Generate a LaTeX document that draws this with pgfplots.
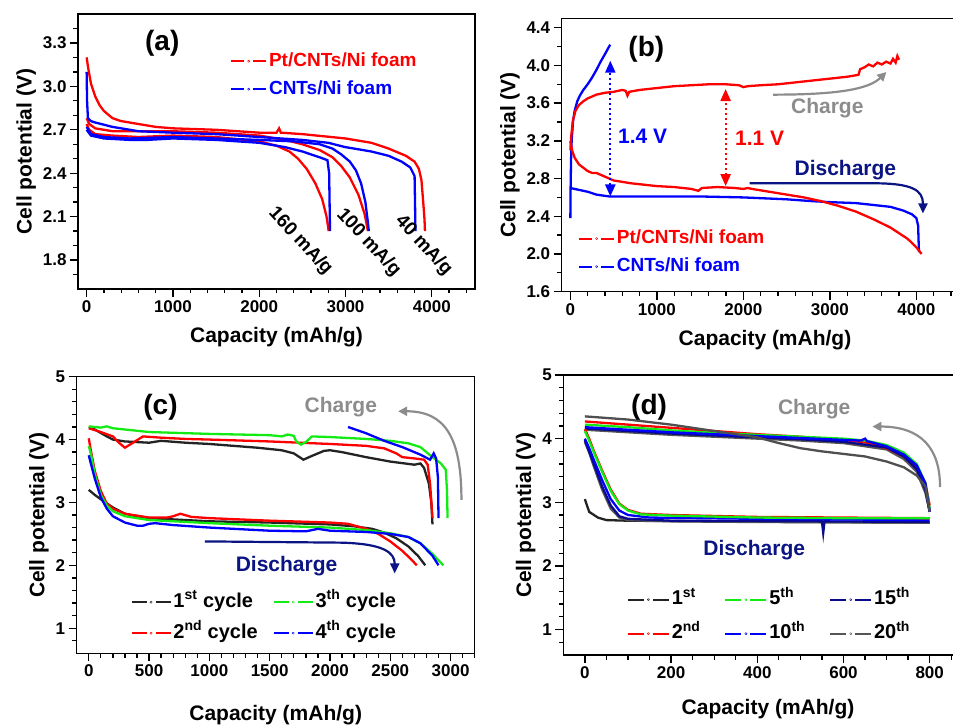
\documentclass[border=0pt]{standalone}
\usepackage{fontspec}
\setmainfont{Liberation Sans}
\usepackage{pgfplots}
\pgfplotsset{compat=1.18}
\usetikzlibrary{arrows.meta}
\definecolor{cblack}{RGB}{35,35,35}
\definecolor{cred}{RGB}{255,0,0}
\definecolor{cblue}{RGB}{0,0,255}
\definecolor{cgreen}{RGB}{20,235,20}
\definecolor{cnavy}{RGB}{10,10,140}
\definecolor{cgray}{RGB}{85,85,85}
\definecolor{chg}{RGB}{140,140,140}
\definecolor{dnavy}{RGB}{10,20,130}
\tikzset{
  anno/.style={font=\fontsize{21}{21}\selectfont\bfseries},
  rlab/.style={font=\fontsize{19}{19}\selectfont\bfseries, rotate=-47},
  plab/.style={font=\fontsize{28}{28}\selectfont\bfseries},
  tk/.style={draw=black, line width=1.3pt, line cap=butt},
}
\pgfplotsset{
  panel/.style={
    scale only axis, anchor=south west, clip=false,
    axis line style={line width=1.4pt},
    major tick style={draw=black, line width=1.3pt},
    minor tick style={draw=black, line width=1.3pt},
    tick align=outside, tick pos=left,
    major tick length=8pt, minor tick length=4.5pt,
    ticklabel style={font=\fontsize{17}{17}\selectfont\bfseries},
    label style={font=\fontsize{21}{21}\selectfont\bfseries},
    xlabel style={yshift=-8pt},
    /pgf/number format/assume math mode=true,
    /pgf/number format/set thousands separator={},
    xlabel={Capacity (mAh/g)}, ylabel={Cell potential (V)},
    legend cell align=left,
    legend style={draw=none, fill=none, inner sep=0pt,
      font=\fontsize{19}{19}\selectfont\bfseries,
      nodes={inner sep=2pt, text height=14pt, text depth=4pt}},
    every axis plot/.append style={line width=2.3pt},
  },
  limg/.style={legend image code/.code={
      \draw[##1,line width=1.8pt] (0pt,0pt)--({#1*1pt},0pt) ({(#1+9)*1pt},0pt)--({(2*#1+9)*1pt},0pt);
      \draw[##1,line width=0.4pt] ({(#1+4.5)*1pt},0pt) circle (1.1pt);}},
}
\begin{document}
\begin{tikzpicture}
\useasboundingbox (0,0) rectangle (953pt,726pt);
% ---------------- (a)
\begin{axis}[panel, at={(78pt,437pt)}, width=397pt, height=275pt,
  xmin=-100, xmax=4500, ymin=1.6, ymax=3.5,
  xtick={0,1000,2000,3000,4000}, minor x tick num=4,
  ytick={1.8,2.1,2.4,2.7,3.0,3.3}, minor y tick num=2,
  yticklabel style={/pgf/number format/.cd, fixed, fixed zerofill, precision=1},
  limg=13,
  legend style={at={(axis description cs:0.383,0.869)}, anchor=north west,
    nodes={text height=14pt, text depth=4pt}, row sep=6pt}]
\addlegendimage{cred}\addlegendentry{\textcolor{cred}{Pt/CNTs/Ni foam}}
\addlegendimage{cblue}\addlegendentry{\textcolor{cblue}{CNTs/Ni foam}}
\addplot[cred, forget plot] coordinates {(0,3.20)(20,3.12)(50,3.02)(100,2.93)(150,2.87)(200,2.83)(300,2.78)(400,2.76)(600,2.74)(800,2.72)(1000,2.71)(1500,2.70)(2000,2.68)(2200,2.68)(2230,2.71)(2250,2.68)(2500,2.67)(3000,2.64)(3300,2.61)(3500,2.57)(3700,2.52)(3800,2.48)(3850,2.43)(3880,2.35)(3900,2.20)(3915,2.08)(3920,2.00)};
\addplot[cred, forget plot] coordinates {(0,2.78)(30,2.74)(100,2.71)(300,2.69)(600,2.69)(1000,2.69)(1500,2.68)(2000,2.66)(2300,2.63)(2500,2.60)(2700,2.56)(2850,2.51)(2950,2.45)(3050,2.37)(3150,2.25)(3220,2.12)(3260,2.00)};
\addplot[cred, forget plot] coordinates {(0,2.74)(30,2.70)(100,2.67)(300,2.66)(600,2.65)(1000,2.66)(1500,2.65)(2000,2.62)(2200,2.59)(2350,2.55)(2450,2.50)(2550,2.43)(2650,2.33)(2730,2.22)(2780,2.10)(2805,2.00)};
\addplot[cblue, forget plot] coordinates {(0,3.10)(5,2.90)(15,2.78)(50,2.76)(100,2.75)(300,2.72)(600,2.69)(1000,2.68)(1500,2.67)(2000,2.65)(2500,2.63)(2800,2.61)(3000,2.58)(3300,2.55)(3500,2.52)(3650,2.48)(3750,2.44)(3800,2.38)(3805,2.20)(3810,2.00)};
\addplot[cblue, forget plot] coordinates {(0,2.72)(50,2.67)(200,2.65)(500,2.64)(1000,2.65)(1500,2.64)(2000,2.63)(2400,2.62)(2700,2.60)(2850,2.57)(2950,2.53)(3050,2.48)(3120,2.42)(3180,2.33)(3230,2.20)(3255,2.08)(3270,2.00)};
\addplot[cblue, forget plot] coordinates {(0,2.70)(50,2.66)(200,2.64)(500,2.63)(700,2.63)(1000,2.64)(1500,2.63)(2000,2.61)(2300,2.58)(2500,2.55)(2700,2.51)(2790,2.49)(2810,2.40)(2815,2.20)(2820,2.00)};
\pgfplotsinvokeforeach{0,200,...,4400}{\draw[tk] (axis cs:#1,1.6) -- ++(0pt,-4.5pt);}
\pgfplotsinvokeforeach{0,1000,...,4000}{\draw[tk] (axis cs:#1,1.6) -- ++(0pt,-8pt);}
\pgfplotsinvokeforeach{1.7,1.8,...,3.45}{\draw[tk] (axis cs:-100,#1) -- ++(-4.5pt,0pt);}
\pgfplotsinvokeforeach{1.8,2.1,2.4,2.7,3.0,3.3}{\draw[tk] (axis cs:-100,#1) -- ++(-8pt,0pt);}
\node[plab] at (axis cs:876,3.30) {(a)};
\node[rlab] at (axis cs:2477,1.93) {160 mA/g};
\node[rlab] at (axis cs:3267,1.92) {100 mA/g};
\node[rlab] at (axis cs:3904,1.90) {40 mA/g};
\end{axis}
% ---------------- (b)
\begin{axis}[panel, at={(561.7pt,434.3pt)}, width=406.6pt, height=273.4pt,
  xmin=-100, xmax=4600, ymin=1.6, ymax=4.5,
  xtick={0,1000,2000,3000,4000}, minor x tick num=4,
  ytick={1.6,2.0,2.4,2.8,3.2,3.6,4.0,4.4}, minor y tick num=1,
  yticklabel style={/pgf/number format/.cd, fixed, fixed zerofill, precision=1},
  limg=13,
  legend style={at={(axis description cs:0.04,0.235)}, anchor=north west,
    nodes={text height=14pt, text depth=4pt}, row sep=6pt}]
\addlegendimage{cred}\addlegendentry{\textcolor{cred}{Pt/CNTs/Ni foam}}
\addlegendimage{cblue}\addlegendentry{\textcolor{cblue}{CNTs/Ni foam}}
\addplot[cblue, forget plot] coordinates {(0,2.38)(3,2.70)(8,3.00)(15,3.20)(30,3.40)(50,3.52)(80,3.62)(110,3.68)(150,3.74)(200,3.80)(250,3.87)(300,3.95)(350,4.04)(400,4.12)(460,4.22)};
\addplot[cblue, forget plot] coordinates {(0,2.70)(100,2.68)(200,2.66)(300,2.63)(450,2.61)(700,2.61)(1000,2.61)(1500,2.61)(2000,2.60)(2500,2.58)(2800,2.56)(3000,2.55)(3300,2.54)(3500,2.52)(3700,2.50)(3850,2.46)(3950,2.42)(4000,2.38)(4020,2.30)(4025,2.15)(4030,2.02)};
\addplot[cred, forget plot] coordinates {(0,3.10)(10,3.25)(30,3.42)(60,3.52)(100,3.58)(150,3.62)(200,3.65)(300,3.69)(400,3.71)(500,3.72)(600,3.74)(640,3.73)(660,3.68)(680,3.72)(800,3.74)(1000,3.76)(1200,3.78)(1400,3.79)(1600,3.80)(1800,3.80)(1950,3.79)(2000,3.77)(2050,3.78)(2200,3.79)(2400,3.80)(2600,3.82)(2800,3.84)(3000,3.86)(3200,3.88)(3330,3.90)(3350,3.96)(3400,3.98)(3450,4.01)(3500,3.99)(3550,4.03)(3600,4.01)(3650,4.04)(3700,4.02)(3730,4.07)(3760,4.03)(3780,4.10)(3800,4.06)};
\addplot[cred, forget plot] coordinates {(0,3.20)(20,3.10)(50,3.02)(100,2.95)(200,2.88)(250,2.86)(300,2.86)(400,2.82)(500,2.78)(700,2.75)(900,2.73)(1000,2.72)(1200,2.71)(1400,2.69)(1480,2.67)(1520,2.70)(1700,2.71)(1900,2.70)(2000,2.69)(2050,2.70)(2100,2.69)(2300,2.66)(2500,2.63)(2700,2.60)(2900,2.56)(3100,2.51)(3300,2.45)(3500,2.37)(3700,2.28)(3900,2.16)(4000,2.07)(4060,2.00)};
\pgfplotsinvokeforeach{0,200,...,4600}{\draw[tk] (axis cs:#1,1.6) -- ++(0pt,-4.5pt);}
\pgfplotsinvokeforeach{0,1000,...,4000}{\draw[tk] (axis cs:#1,1.6) -- ++(0pt,-8pt);}
\pgfplotsinvokeforeach{1.8,2.2,2.6,3.0,3.4,3.8,4.2}{\draw[tk] (axis cs:-100,#1) -- ++(-4.5pt,0pt);}
\pgfplotsinvokeforeach{1.6,2.0,2.4,2.8,3.2,3.6,4.0,4.4}{\draw[tk] (axis cs:-100,#1) -- ++(-8pt,0pt);}
\node[plab] at (axis cs:878,4.17) {(b)};
\draw[cblue, line width=2.2pt, dash pattern=on 2pt off 3pt, {Triangle[length=12pt,width=10pt]}-{Triangle[length=12pt,width=10pt]}] (axis cs:462,2.61) -- (axis cs:462,4.05);
\draw[cred, line width=2.2pt, dash pattern=on 2pt off 3pt, {Triangle[length=12pt,width=10pt]}-{Triangle[length=12pt,width=10pt]}] (axis cs:1795,2.72) -- (axis cs:1795,3.75);
\node[anno, text=cblue] at (axis cs:836,3.25) {1.4 V};
\node[anno, text=cred] at (axis cs:2188,3.23) {1.1 V};
\draw[chg, line width=2.2pt, -{Triangle[length=9pt,width=9pt]}] (axis cs:2343,3.69) .. controls (axis cs:3100,3.69) and (axis cs:3450,3.75) .. (axis cs:3653,3.93);
\node[anno, text=chg] at (axis cs:2970,3.55) {Charge};
\draw[dnavy, line width=2.2pt, -{Triangle[length=10pt,width=9pt]}] (axis cs:2073,2.75) -- (axis cs:3500,2.75) .. controls (axis cs:3950,2.75) and (axis cs:4076,2.68) .. (axis cs:4076,2.43);
\node[anno, text=dnavy] at (axis cs:3179,2.89) {Discharge};
\end{axis}
% ---------------- (c)
\begin{axis}[panel, at={(76.7pt,72.7pt)}, width=398pt, height=276.6pt,
  xmin=-100, xmax=3200, ymin=0.6, ymax=5,
  xtick={0,500,1000,1500,2000,2500,3000}, minor x tick num=4,
  ytick={1,2,3,4,5}, minor y tick num=4,
  xlabel style={yshift=-14pt},
  limg=15,
  legend columns=2,
  legend style={at={(axis description cs:0.135,0.229)}, anchor=north west,
    font=\fontsize{20}{20}\selectfont\bfseries,
    nodes={text height=15pt, text depth=5pt}, row sep=7pt,
    /tikz/every even column/.append style={column sep=13pt}}]
\addlegendimage{cblack}\addlegendentry{1\textsuperscript{st} cycle}
\addlegendimage{cgreen}\addlegendentry{3\textsuperscript{th} cycle}
\addlegendimage{cred}\addlegendentry{2\textsuperscript{nd} cycle}
\addlegendimage{cblue}\addlegendentry{4\textsuperscript{th} cycle}
\addplot[cblack, forget plot] coordinates {(0,4.20)(50,4.16)(150,4.05)(200,4.00)(300,3.97)(400,3.96)(500,3.95)(600,3.98)(800,3.95)(1000,3.93)(1200,3.90)(1400,3.87)(1600,3.83)(1700,3.78)(1780,3.68)(1850,3.74)(1950,3.82)(2000,3.83)(2100,3.80)(2300,3.72)(2500,3.65)(2700,3.60)(2750,3.62)(2780,3.55)(2820,3.30)(2840,3.00)(2850,2.65)};
\addplot[cred, forget plot] coordinates {(0,4.18)(100,4.12)(200,4.05)(250,3.95)(300,3.87)(350,3.93)(450,4.05)(600,4.03)(800,4.01)(1000,4.00)(1500,3.97)(2000,3.93)(2300,3.90)(2450,3.86)(2550,3.78)(2600,3.72)(2700,3.70)(2780,3.68)(2810,3.60)(2830,3.30)(2850,2.75)};
\addplot[cgreen, forget plot] coordinates {(0,4.21)(100,4.19)(150,4.21)(200,4.18)(500,4.12)(1000,4.09)(1500,4.07)(1600,4.05)(1650,4.08)(1700,4.06)(1720,3.97)(1760,3.92)(1800,3.96)(1850,4.05)(2000,4.04)(2300,4.01)(2500,3.98)(2650,3.94)(2750,3.88)(2850,3.72)(2920,3.62)(2960,3.52)(2970,3.20)(2975,2.75)};
\addplot[cblue, forget plot] coordinates {(2150,4.20)(2300,4.10)(2450,3.98)(2600,3.88)(2750,3.76)(2830,3.68)(2860,3.78)(2880,3.70)(2895,3.40)(2900,2.75)};
\addplot[cblack, forget plot] coordinates {(0,3.20)(50,3.12)(100,3.05)(200,2.92)(300,2.82)(400,2.78)(500,2.75)(700,2.73)(1000,2.70)(1500,2.68)(2000,2.65)(2200,2.62)(2350,2.58)(2450,2.52)(2550,2.43)(2650,2.30)(2730,2.15)(2790,2.00)};
\addplot[cred, forget plot] coordinates {(0,4.02)(20,3.80)(50,3.50)(100,3.18)(150,2.98)(200,2.90)(300,2.82)(500,2.76)(650,2.76)(700,2.78)(760,2.82)(850,2.77)(1000,2.75)(1500,2.71)(2000,2.68)(2150,2.66)(2300,2.58)(2400,2.50)(2500,2.38)(2600,2.23)(2670,2.10)(2720,2.00)};
\addplot[cgreen, forget plot] coordinates {(0,3.90)(20,3.75)(50,3.45)(100,3.12)(150,2.95)(200,2.86)(300,2.78)(500,2.72)(1000,2.67)(1500,2.63)(2000,2.60)(2300,2.56)(2500,2.51)(2650,2.45)(2750,2.35)(2850,2.18)(2900,2.08)(2940,2.00)};
\addplot[cblue, forget plot] coordinates {(0,3.75)(20,3.60)(50,3.38)(100,3.08)(150,2.90)(200,2.78)(300,2.68)(400,2.63)(450,2.63)(500,2.66)(550,2.67)(700,2.64)(1000,2.60)(1500,2.55)(1800,2.54)(1900,2.58)(2000,2.55)(2300,2.53)(2500,2.50)(2650,2.45)(2750,2.35)(2850,2.15)(2900,2.00)};
\pgfplotsinvokeforeach{0,100,...,3200}{\draw[tk] (axis cs:#1,0.6) -- ++(0pt,-4.5pt);}
\pgfplotsinvokeforeach{0,500,...,3000}{\draw[tk] (axis cs:#1,0.6) -- ++(0pt,-8pt);}
\pgfplotsinvokeforeach{0.8,1.0,...,4.9}{\draw[tk] (axis cs:-100,#1) -- ++(-4.5pt,0pt);}
\pgfplotsinvokeforeach{1,2,3,4,5}{\draw[tk] (axis cs:-100,#1) -- ++(-8pt,0pt);}
\node[plab] at (axis cs:595,4.52) {(c)};
\draw[chg, line width=2.2pt, -{Triangle[length=9pt,width=9pt]}] (axis cs:3090,3.04) .. controls (axis cs:3090,4.05) and (axis cs:2950,4.45) .. (axis cs:2565,4.45);
\node[anno, text=chg] at (axis cs:2090,4.52) {Charge};
\draw[dnavy, line width=2.2pt, -{Triangle[length=10pt,width=9pt]}] (axis cs:962,2.38) -- (axis cs:2100,2.36) .. controls (axis cs:2450,2.34) and (axis cs:2537,2.2) .. (axis cs:2537,1.87);
\node[anno, text=dnavy] at (axis cs:1640,1.98) {Discharge};
\end{axis}
% ---------------- (d)
\begin{axis}[panel, at={(563.3pt,71pt)}, width=409.5pt, height=280pt,
  xmin=-50, xmax=900, ymin=0.6, ymax=5,
  xtick={0,200,400,600,800}, minor x tick num=3,
  ytick={1,2,3,4,5}, minor y tick num=4,
  xlabel style={yshift=-6pt},
  limg=16,
  legend columns=3,
  legend style={at={(axis description cs:0.155,0.241)}, anchor=north west,
    font=\fontsize{20}{20}\selectfont\bfseries,
    nodes={text height=15pt, text depth=5pt}, row sep=10pt,
    /tikz/every even column/.append style={column sep=22pt}}]
\addlegendimage{cblack}\addlegendentry{1\textsuperscript{st}}
\addlegendimage{cgreen}\addlegendentry{5\textsuperscript{th}}
\addlegendimage{cnavy}\addlegendentry{15\textsuperscript{th}}
\addlegendimage{cred}\addlegendentry{2\textsuperscript{nd}}
\addlegendimage{cblue}\addlegendentry{10\textsuperscript{th}}
\addlegendimage{cgray}\addlegendentry{20\textsuperscript{th}}
\addplot[cgray, forget plot] coordinates {(0,4.14)(100,4.10)(200,4.06)(300,4.03)(400,4.00)(500,3.97)(600,3.93)(700,3.83)(740,3.68)(770,3.48)(790,3.15)(800,2.85)};
\addplot[cred, forget plot] coordinates {(0,4.27)(100,4.22)(200,4.17)(300,4.12)(400,4.07)(500,4.03)(600,3.98)(650,3.94)(700,3.85)(740,3.72)(770,3.55)(790,3.30)(800,2.95)};
\addplot[cgreen, forget plot] coordinates {(0,4.22)(100,4.18)(200,4.13)(300,4.09)(400,4.06)(500,4.03)(600,4.00)(650,3.97)(700,3.90)(740,3.78)(770,3.60)(790,3.30)(800,2.90)};
\addplot[cnavy, forget plot] coordinates {(0,4.16)(100,4.12)(200,4.08)(300,4.05)(400,4.02)(500,3.99)(600,3.95)(700,3.86)(740,3.72)(770,3.52)(790,3.20)(800,2.85)};
\addplot[cblue, forget plot] coordinates {(0,4.18)(100,4.14)(200,4.10)(300,4.07)(400,4.04)(500,4.01)(600,3.98)(640,3.97)(650,4.00)(655,3.96)(700,3.88)(740,3.75)(770,3.58)(790,3.30)(800,2.85)};
\addplot[cblack!80, forget plot] coordinates {(0,4.35)(100,4.30)(200,4.22)(300,4.12)(400,4.02)(450,3.93)(500,3.85)(550,3.80)(600,3.76)(650,3.72)(700,3.64)(740,3.55)(770,3.42)(790,3.25)(800,2.85)};
\addplot[cblack, forget plot] coordinates {(0,3.05)(5,2.95)(10,2.85)(30,2.76)(50,2.72)(100,2.71)(300,2.70)(500,2.69)(800,2.68)};
\addplot[cgray, forget plot] coordinates {(0,3.95)(10,3.78)(20,3.58)(40,3.20)(60,2.90)(80,2.76)(100,2.72)(200,2.70)(400,2.69)(800,2.68)};
\addplot[cnavy, forget plot] coordinates {(0,3.98)(10,3.80)(20,3.62)(40,3.25)(60,2.95)(80,2.78)(100,2.74)(200,2.71)(550,2.70)(553,2.52)(556,2.70)(800,2.69)};
\addplot[cblue, forget plot] coordinates {(0,4.00)(10,3.85)(20,3.68)(40,3.35)(60,3.05)(80,2.87)(100,2.80)(150,2.76)(400,2.74)(800,2.72)};
\addplot[cred, forget plot] coordinates {(0,4.15)(10,4.00)(20,3.82)(40,3.50)(60,3.20)(80,2.98)(100,2.88)(130,2.82)(200,2.80)(400,2.77)(600,2.76)(800,2.75)};
\addplot[cgreen, forget plot] coordinates {(0,4.12)(10,3.97)(20,3.80)(40,3.48)(60,3.18)(80,2.97)(100,2.87)(130,2.81)(200,2.79)(400,2.76)(600,2.75)(800,2.75)};
\pgfplotsinvokeforeach{0,50,...,900}{\draw[tk] (axis cs:#1,0.6) -- ++(0pt,-4.5pt);}
\pgfplotsinvokeforeach{0,200,...,800}{\draw[tk] (axis cs:#1,0.6) -- ++(0pt,-8pt);}
\pgfplotsinvokeforeach{0.8,1.0,...,4.9}{\draw[tk] (axis cs:-50,#1) -- ++(-4.5pt,0pt);}
\pgfplotsinvokeforeach{1,2,3,4,5}{\draw[tk] (axis cs:-50,#1) -- ++(-8pt,0pt);}
\node[plab] at (axis cs:149,4.5) {(d)};
\draw[chg, line width=2.2pt, -{Triangle[length=9pt,width=9pt]}] (axis cs:824,3.24) .. controls (axis cs:824,3.85) and (axis cs:780,4.19) .. (axis cs:667,4.19);
\node[anno, text=chg] at (axis cs:532,4.46) {Charge};
\node[anno, text=dnavy] at (axis cs:393,2.25) {Discharge};
\end{axis}
\end{tikzpicture}
\end{document}
